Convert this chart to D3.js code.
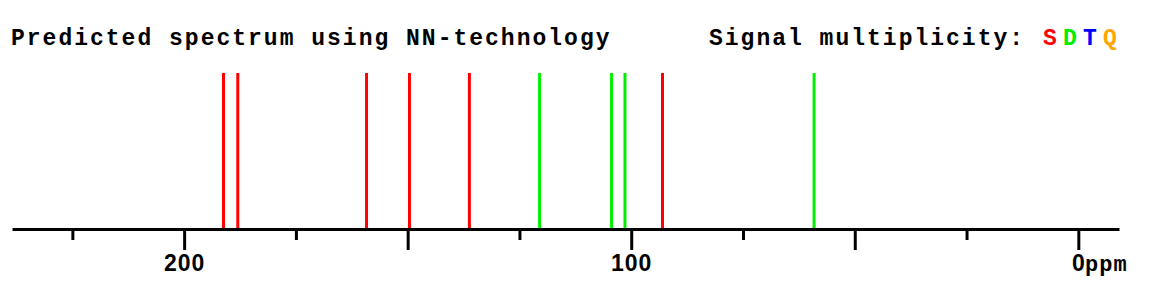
<!DOCTYPE html>
<html>
	<head>
		<title>Predicted spectrum</title>
		<script src="https://d3js.org/d3.v7.min.js" charset="utf-8"></script>
		<style>
			body {
				margin: 0;
				background: white;
			}
			.mono {
				font-family: "Liberation Mono", "Courier New", monospace;
				font-weight: bold;
			}
			.axis text {
				font-family: "Liberation Sans", Arial, sans-serif;
				font-weight: bold;
				font-size: 23px;
				letter-spacing: 1px;
				fill: #000;
			}
		</style>
	</head>
	<body>
		<script>
		// peaks (ppm) and their multiplicity
		var shifts = [191.2, 188.0, 159.2, 149.6, 136.2, 120.5, 104.4, 101.4, 93.0, 59.1];
		var mult   = ["S", "S", "S", "S", "S", "D", "D", "D", "S", "D"];
		var heights = [1, 1, 1, 1, 1, 1, 1, 1, 1, 1];

		var majorTicks = [200, 150, 100, 50, 0];
		var minorTicks = [225, 175, 125, 75, 25];
		var tickLabels = ["200", "", "100", "", "0"];

		var legendLetters = ["S", "D", "T", "Q"];
		var legendColors = ["#ff0000", "#00ee00", "#0000ff", "#ffa500"];

		var width = 1173;
		var height = 290;

		var colorOf = d3.scaleOrdinal().domain(legendLetters).range(legendColors);

		var svg = d3.select("body")
			.append("svg")
			.attr("width", width)
			.attr("height", height);

		// ppm axis runs right to left
		var x = d3.scaleLinear().domain([238.5, -9.1]).range([12, 1119]);
		var y = d3.scaleLinear().domain([0, 1]).range([229, 73]);

		// title + legend
		svg.append("text")
			.attr("class", "mono")
			.attr("x", 11)
			.attr("y", 45)
			.attr("font-size", 23)
			.attr("letter-spacing", 2)
			.text("Predicted spectrum using NN-technology");

		svg.append("text")
			.attr("class", "mono")
			.attr("x", 709)
			.attr("y", 45)
			.attr("font-size", 23)
			.attr("letter-spacing", 2)
			.text("Signal multiplicity:");

		var legendX = d3.scalePoint().domain(legendLetters).range([1043, 1103]);

		svg.selectAll(".legend")
			.data(legendLetters)
			.enter()
			.append("text")
			.attr("class", "mono legend")
			.attr("x", function(d){ return legendX(d); })
			.attr("y", 45)
			.attr("font-size", 23)
			.attr("fill", function(d){ return colorOf(d); })
			.text(function(d){ return d; });

		// peaks
		svg.append("g")
			.selectAll("line")
			.data(shifts)
			.enter()
			.append("line")
			.attr("x1", function(d){ return x(d); })
			.attr("x2", function(d){ return x(d); })
			.attr("y1", y(0))
			.attr("y2", function(d, i){ return y(heights[i]); })
			.attr("stroke", function(d, i){ return colorOf(mult[i]); })
			.attr("stroke-width", 3);

		// minor ticks
		var minor = svg.append("g")
			.attr("transform", "translate(0," + y(0) + ")")
			.call(d3.axisBottom(x).tickValues(minorTicks).tickSize(11).tickSizeOuter(0).tickFormat(""));
		minor.select(".domain").remove();
		minor.selectAll("line").attr("stroke-width", 3);

		// major ticks and axis line
		var axis = svg.append("g")
			.attr("class", "axis")
			.attr("transform", "translate(0," + y(0) + ")")
			.call(d3.axisBottom(x)
				.tickValues(majorTicks)
				.tickSize(21)
				.tickSizeOuter(0)
				.tickFormat(function(d, i){ return tickLabels[i]; }));

		axis.select(".domain").attr("stroke-width", 3);
		axis.selectAll("line").attr("stroke-width", 3);
		axis.selectAll("text").attr("y", 42).attr("dy", 0);

		svg.append("text")
			.attr("class", "mono")
			.attr("x", 1085)
			.attr("y", 271)
			.attr("font-size", 22)
			.attr("letter-spacing", 1)
			.text("ppm");
		</script>
	</body>
</html>
